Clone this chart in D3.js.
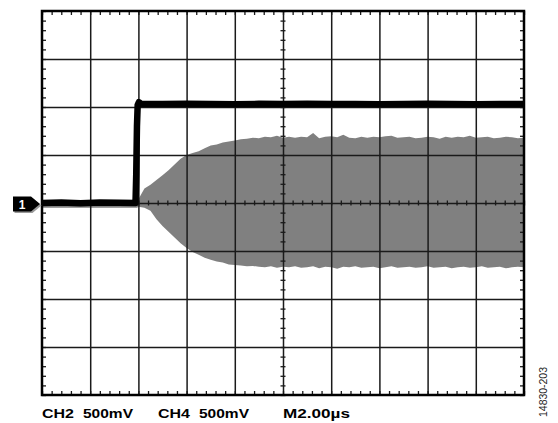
<!DOCTYPE html>
<html><head><meta charset="utf-8">
<script src="https://cdn.jsdelivr.net/npm/d3@7"></script>
<style>html,body{margin:0;padding:0;background:#fff;}svg{display:block;}</style>
</head><body>
<svg id="c" width="558" height="423"></svg>
<script>
// ---- data ----
// time axis in microseconds (M2.00µs / div), voltage in volts (500mV / div)
const majorTimes = [0, 2, 4, 6, 8, 10, 12, 14, 16, 18, 20];
const majorVolts = [-2, -1.5, -1, -0.5, 0, 0.5, 1, 1.5, 2];
const channelLabels = ["CH2", "500mV", "CH4", "500mV", "M2.00µs"];
const figureId = "14830-203";
const markerLabel = "1";

// CH2 (black, step)
const stepTimes = [0, 0.8, 1.6, 2.4, 3.2, 3.88, 3.91, 3.94, 3.97, 4.02, 4.1, 5, 6, 7, 8, 9, 10, 11, 12, 13, 14, 15, 16, 17, 18, 19, 20];
const stepVolts = [0, 0.005, -0.003, 0.004, 0.002, 0, 0.3, 0.8, 1.02, 1.05, 1.035, 1.03, 1.035, 1.03, 1.028, 1.033, 1.03, 1.035, 1.03, 1.032, 1.028, 1.03, 1.035, 1.03, 1.028, 1.032, 1.03];

// CH4 (grey, burst envelope)
const envTimes = [0, 3.95,
  4.0, 4.25, 4.5, 4.75, 5.0, 5.25, 5.5, 5.75, 6.0, 6.25, 6.5, 6.75, 7.0, 7.25, 7.5, 7.75,
  8.0, 8.25, 8.5, 8.75, 9.0, 9.25, 9.5, 9.75, 10.0, 10.25, 10.5, 10.75, 11.0, 11.25, 11.5, 11.75,
  12.0, 12.25, 12.5, 12.75, 13.0, 13.25, 13.5, 13.75, 14.0, 14.25, 14.5, 14.75, 15.0, 15.25, 15.5, 15.75,
  16.0, 16.25, 16.5, 16.75, 17.0, 17.25, 17.5, 17.75, 18.0, 18.25, 18.5, 18.75, 19.0, 19.25, 19.5, 19.75, 20.0];
const envTop = [0.02, 0.02,
  0.04, 0.15, 0.19, 0.24, 0.29, 0.34, 0.40, 0.46, 0.50, 0.52, 0.54, 0.57, 0.60, 0.61, 0.63, 0.64,
  0.65, 0.665, 0.67, 0.68, 0.675, 0.69, 0.685, 0.70, 0.68, 0.69, 0.68, 0.69, 0.685, 0.73, 0.675, 0.69,
  0.695, 0.685, 0.71, 0.68, 0.675, 0.69, 0.68, 0.69, 0.685, 0.695, 0.70, 0.68, 0.685, 0.69, 0.675, 0.68,
  0.69, 0.685, 0.67, 0.69, 0.68, 0.69, 0.685, 0.70, 0.68, 0.685, 0.69, 0.675, 0.68, 0.69, 0.685, 0.675, 0.68];
const envBottom = [-0.05, -0.05,
  -0.04, -0.05, -0.08, -0.17, -0.24, -0.30, -0.36, -0.42, -0.47, -0.51, -0.54, -0.57, -0.59, -0.61, -0.62, -0.64,
  -0.645, -0.65, -0.66, -0.655, -0.665, -0.67, -0.66, -0.675, -0.665, -0.67, -0.66, -0.675, -0.67, -0.66, -0.68, -0.665,
  -0.67, -0.685, -0.665, -0.67, -0.66, -0.675, -0.67, -0.665, -0.68, -0.67, -0.66, -0.675, -0.67, -0.665, -0.675, -0.67,
  -0.66, -0.675, -0.67, -0.665, -0.68, -0.67, -0.665, -0.675, -0.67, -0.66, -0.675, -0.67, -0.665, -0.68, -0.67, -0.665, -0.67];

// ---- drawing ----
const svg = d3.select("#c");
const L = 42, R = 524, T = 11, B = 395;
const x = d3.scaleLinear().domain([0, 20]).range([L, R]);
const y = d3.scaleLinear().domain([-2, 2]).range([B, T]);
const minorT = d3.range(0, 20.0001, 0.4);
const minorV = d3.range(-2, 2.0001, 0.1);

// grey burst
const env = envTimes.map((t, i) => ({t, top: envTop[i], bot: envBottom[i]}));
svg.append("path").datum(env)
  .attr("fill", "#808080")
  .attr("d", d3.area().x(d => x(d.t)).y0(d => y(d.bot)).y1(d => y(d.top)));

// grid via axes
const gridCol = "#1a1a1a";
function style(g, w) {
  g.select(".domain").remove();
  g.selectAll("text").remove();
  g.selectAll("line").attr("stroke", gridCol).attr("stroke-width", w);
}
svg.append("g").attr("transform", `translate(0,${B})`)
  .call(d3.axisBottom(x).tickValues(majorTimes.slice(1, -1)).tickSize(-(B - T)).tickFormat(""))
  .call(g => style(g, 1.5));
svg.append("g").attr("transform", `translate(${L},0)`)
  .call(d3.axisLeft(y).tickValues(majorVolts.slice(1, -1)).tickSize(-(R - L)).tickFormat(""))
  .call(g => style(g, 1.5));

// minor ticks on border
svg.append("g").attr("transform", `translate(0,${T})`)
  .call(d3.axisTop(x).tickValues(minorT).tickSize(-4).tickFormat("")).call(g => style(g, 1.3));
svg.append("g").attr("transform", `translate(0,${B})`)
  .call(d3.axisBottom(x).tickValues(minorT).tickSize(-4).tickFormat("")).call(g => style(g, 1.3));
svg.append("g").attr("transform", `translate(${L},0)`)
  .call(d3.axisLeft(y).tickValues(minorV).tickSize(-4).tickFormat("")).call(g => style(g, 1.3));
svg.append("g").attr("transform", `translate(${R},0)`)
  .call(d3.axisRight(y).tickValues(minorV).tickSize(-4).tickFormat("")).call(g => style(g, 1.3));
// minor ticks crossing center lines
const cy = y(0), cx = x(10);
svg.append("g").attr("transform", `translate(0,${cy})`)
  .call(d3.axisBottom(x).tickValues(minorT).tickSize(2.5).tickFormat("")).call(g => style(g, 1.3));
svg.append("g").attr("transform", `translate(0,${cy})`)
  .call(d3.axisTop(x).tickValues(minorT).tickSize(2.5).tickFormat("")).call(g => style(g, 1.3));
svg.append("g").attr("transform", `translate(${cx},0)`)
  .call(d3.axisLeft(y).tickValues(minorV).tickSize(2.5).tickFormat("")).call(g => style(g, 1.3));
svg.append("g").attr("transform", `translate(${cx},0)`)
  .call(d3.axisRight(y).tickValues(minorV).tickSize(2.5).tickFormat("")).call(g => style(g, 1.3));

// black step trace
const step = stepTimes.map((t, i) => ({t, v: stepVolts[i]}));
svg.append("path").datum(step)
  .attr("fill", "none").attr("stroke", "#000").attr("stroke-width", 6.5)
  .attr("stroke-linejoin", "round")
  .attr("d", d3.line().x(d => x(d.t)).y(d => y(d.v)));

// border
svg.append("rect").attr("x", L).attr("y", T).attr("width", R - L).attr("height", B - T)
  .attr("fill", "none").attr("stroke", "#000").attr("stroke-width", 2.5);

// channel marker "1"
const my = y(0) + 1;
const markerPath = (dx, dy) => `M${13 + dx},${my - 7.5 + dy} L${31 + dx},${my - 7.5 + dy} L${40 + dx},${my + dy} L${31 + dx},${my + 7.5 + dy} L${13 + dx},${my + 7.5 + dy} Z`;
svg.append("path").attr("d", markerPath(1.5, 1.5)).attr("fill", "#9a9a9a");
svg.append("path").attr("d", markerPath(0, 0)).attr("fill", "#000");
svg.append("text").attr("x", 22).attr("y", my + 4.5).attr("text-anchor", "middle")
  .attr("fill", "#fff").attr("font-family", "'Liberation Sans', Arial, sans-serif")
  .attr("font-weight", "bold").attr("font-size", 12).text(markerLabel);

// bottom labels
const labelX = [42, 83, 158, 199, 283];
const labelW = [32, 50, 32, 50, 67];
svg.selectAll("text.lbl").data(channelLabels).enter().append("text")
  .attr("class", "lbl")
  .attr("x", (d, i) => labelX[i]).attr("y", 418)
  .attr("textLength", (d, i) => labelW[i]).attr("lengthAdjust", "spacingAndGlyphs")
  .attr("font-family", "'Liberation Sans', Arial, sans-serif")
  .attr("font-weight", "bold").attr("font-size", 12.5).attr("fill", "#000")
  .text(d => d);

// rotated figure id
svg.append("text").attr("transform", "translate(547,417) rotate(-90)")
  .attr("textLength", 50).attr("lengthAdjust", "spacingAndGlyphs")
  .attr("font-family", "'Liberation Sans', Arial, sans-serif")
  .attr("font-size", 10.5).attr("fill", "#222").text(figureId);
</script>
</body></html>
